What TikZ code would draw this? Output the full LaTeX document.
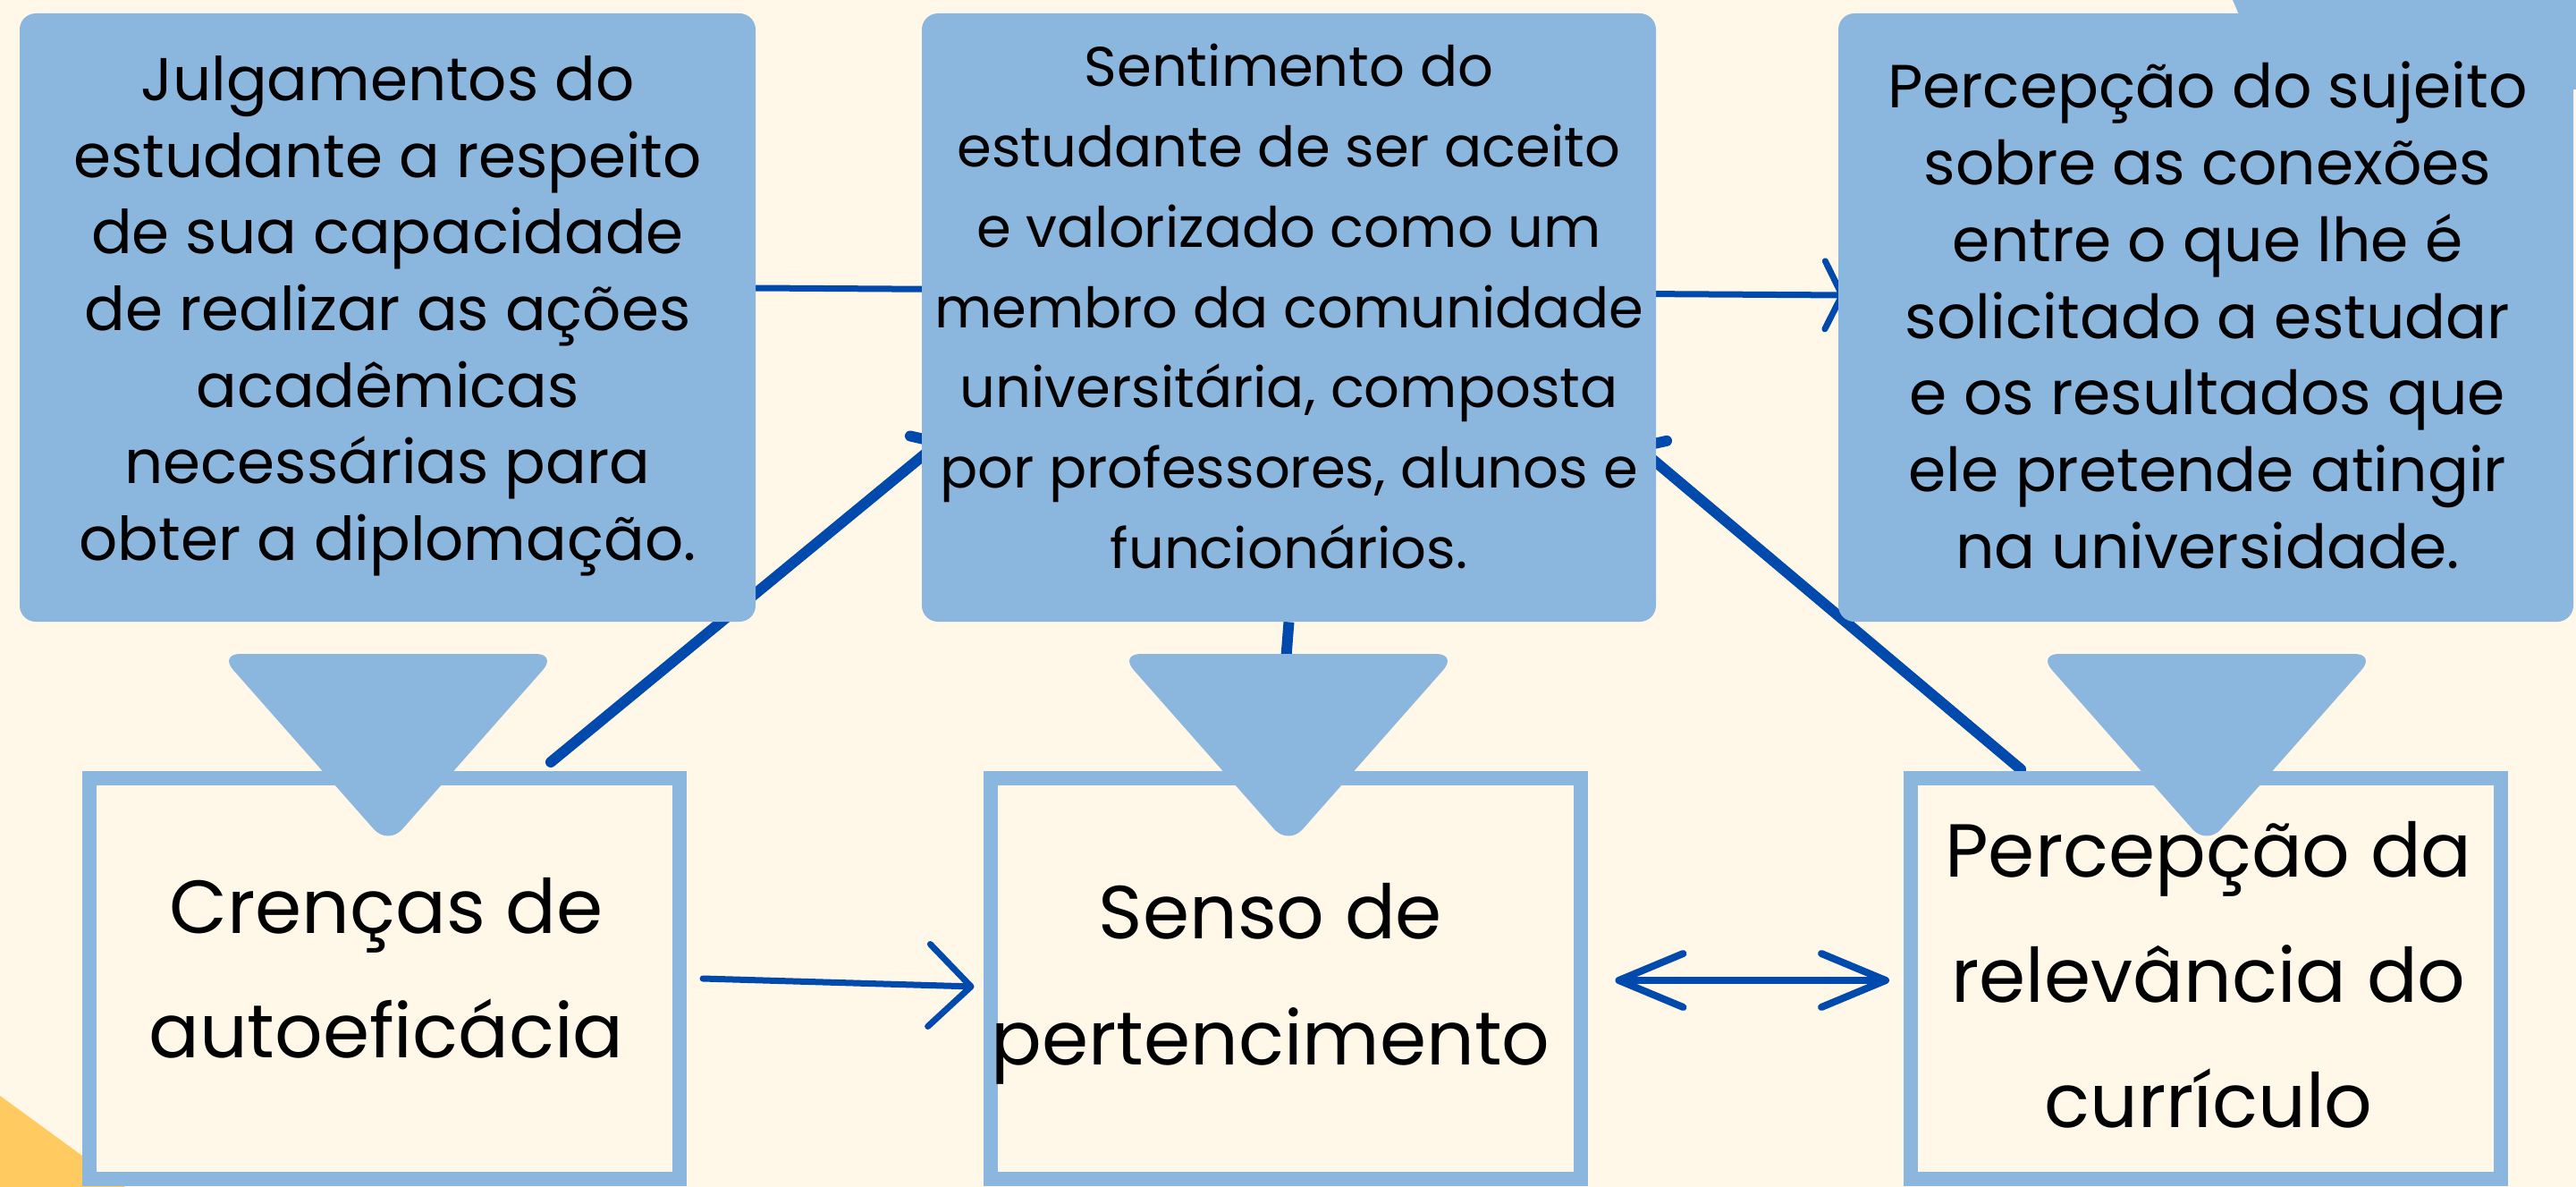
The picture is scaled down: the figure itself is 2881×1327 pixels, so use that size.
\documentclass[tikz,border=0pt]{standalone}
\usepackage{fontspec}
\setmainfont{Poppins}
\usetikzlibrary{arrows.meta}
\definecolor{cream}{RGB}{255,247,232}
\definecolor{lblue}{RGB}{139,182,222}
\definecolor{dblue}{RGB}{0,74,173}
\definecolor{ylw}{RGB}{255,202,96}
\pgfdeclarelayer{bg}\pgfdeclarelayer{conn}\pgfdeclarelayer{front}
\pgfsetlayers{bg,conn,main,front}
\tikzset{
  topbox/.style={fill=lblue, rounded corners=9pt, minimum height=340pt, inner sep=0pt},
  botbox/.style={draw=lblue, line width=8pt, fill=cream, minimum width=330pt, minimum height=224pt, inner sep=0pt},
  tline/.style={anchor=base, inner sep=0pt, text=black},
  ta/.style={tline, font=\fontsize{33.8pt}{40pt}\selectfont},
  tb/.style={tline, font=\fontsize{31.2pt}{36pt}\selectfont},
  tc/.style={tline, font=\fontsize{34pt}{40pt}\selectfont},
  tbig/.style={tline, font=\fontsize{42pt}{50pt}\selectfont},
  conn/.style={draw=dblue, line cap=round, line join=round},
  tri/.style={fill=lblue, rounded corners=12pt},
}
\begin{document}
\begin{tikzpicture}[x=0.5pt, y=-0.5pt]
\useasboundingbox (0,0) rectangle (2881,1327);
\clip (0,0) rectangle (2881,1327);
\begin{pgfonlayer}{bg}
  \fill[cream] (0,0) rectangle (2881,1327);
  \fill[ylw] (0,1225) -- (170,1349) -- (0,1349) -- cycle;
  \fill[lblue] (2497,0) -- (2881,0) -- (2881,100) -- (2540,100) -- cycle;
\end{pgfonlayer}

% top boxes
\node[topbox, minimum width=411.5pt] (t1) at (433.5,355) {};
\node[topbox, minimum width=410.5pt] (t2) at (1441.5,355) {};
\node[topbox, minimum width=411pt] (t3) at (2467,355) {};

% bottom boxes
\node[botbox] (b1) at (430,1094) {};
\node[botbox] (b2) at (1437.5,1094) {};
\node[botbox] (b3) at (2467,1094) {};

% texts
\foreach \s [count=\i] in {Julgamentos do, estudante a respeito, de sua capacidade, de realizar as ações, acadêmicas, necessárias para, obter a diplomação.}
  \node[ta] (ta\i) at (433.5, {112.6+85.6*(\i-1)}) {\s};
\foreach \s [count=\i] in {Sentimento do, estudante de ser aceito, e valorizado como um, membro da comunidade, {universitária, composta}, {por professores, alunos e}, funcionários.}
  \node[tb] (tb\i) at (1441.5, {97+89.7*(\i-1)}) {\s};
\foreach \s [count=\i] in {Percepção do sujeito, sobre as conexões, entre o que lhe é, solicitado a estudar, e os resultados que, ele pretende atingir, na universidade.}
  \node[tc] (tc\i) at (2469, {121+85.7*(\i-1)}) {\s};

\node[tbig] (ba1) at (432,1043) {Crenças de};
\node[tbig] (ba2) at (432,1182) {autoeficácia};
\node[tbig] (bb1) at (1421,1049) {Senso de};
\node[tbig] (bb2) at (1421,1190) {pertencimento};
\node[tbig] (bc1) at (2470,980) {Percepção da};
\node[tbig] (bc2) at (2470,1120) {relevância do};
\node[tbig] (bc3) at (2470,1260) {currículo};

% triangles
\coordinate (tri2) at (1438,740);
\begin{pgfonlayer}{front}
  \fill[tri] (245,731) -- (623,731) -- (434,945) -- cycle;
  \fill[tri] (1252,731) -- (1630,731) -- (1441,945) -- cycle;
  \fill[tri] (2279,731) -- (2657,731) -- (2468,945) -- cycle;
\end{pgfonlayer}

% connectors
\begin{pgfonlayer}{conn}
  \draw[conn, line width=3.5pt, -{Straight Barb[length=9.5pt,width=38pt,round]}]
    ([yshift=16.5pt]t1.east) -- ([xshift=4pt,yshift=12.5pt]t3.west);
  \draw[conn, line width=6pt, line cap=butt] (t2.south) -- (tri2);
  \draw[conn, line width=6pt, -{Straight Barb[length=10pt,width=26pt,round]}]
    ([xshift=-76pt,yshift=5pt]b1.north east) -- ([xshift=12pt,yshift=-68pt]t2.west);
  \draw[conn, line width=6pt, -{Straight Barb[length=10pt,width=26pt,round]}]
    ([xshift=65.5pt,yshift=1pt]b3.north west) -- ([xshift=-12.5pt,yshift=-70.5pt]t2.east);
\end{pgfonlayer}
\draw[conn, line width=3.5pt, -{Straight Barb[length=23.5pt,width=46pt,round]}]
  ([xshift=9pt]b1.east) -- ([xshift=-5pt,yshift=-4.5pt]b2.west);
\draw[conn, line width=4pt, {Straight Barb[length=36pt,width=30pt,round]}-{Straight Barb[length=36pt,width=30pt,round]}]
  ([xshift=15.5pt,yshift=-1pt]b2.east) -- ([xshift=-8pt,yshift=-1pt]b3.west);
\end{tikzpicture}
\end{document}
